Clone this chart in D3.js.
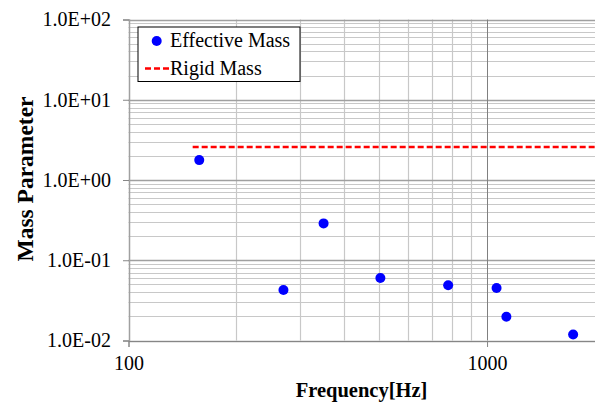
<!DOCTYPE html>
<html>
<head>
<meta charset="utf-8">
<script src="https://cdn.jsdelivr.net/npm/d3@7"></script>
<style>
  body { margin: 0; background: #fff; }
  svg text { font-family: "Liberation Serif", "Times New Roman", serif; }
</style>
</head>
<body>
<svg id="chart" width="595" height="403"></svg>
<script>
// data
var frequencies = [157.5, 270.5, 350, 504, 779, 1063, 1132, 1738];
var effectiveMass = [1.77, 0.0426, 0.288, 0.0601, 0.0488, 0.0451, 0.0198, 0.0119];
var rigidMass = 2.58;
var rigidRange = [151, 2000];
var yTicks = [100, 10, 1, 0.1, 0.01];
var xTicks = [100, 1000];
var seriesNames = ["Effective Mass", "Rigid Mass"];

var width = 595;
var height = 403;
var margin = {top: 19.5, right: 0, bottom: 62.5, left: 128.5};

var svg = d3.select("#chart");

var x = d3.scaleLog()
  .domain([100, 2000])
  .range([margin.left, width - margin.right]);

var y = d3.scaleLog()
  .domain([0.01, 100])
  .range([height - margin.bottom, margin.top]);

// minor grid values (2..9 in each decade)
var xMinor = [];
for (var d = 100; d < 2000; d *= 10) {
  for (var k = 2; k <= 9; k++) {
    if (d * k < 2000) xMinor.push(d * k);
  }
}
var yMinor = [];
for (var e = 0.01; e < 100; e *= 10) {
  for (var m = 2; m <= 9; m++) yMinor.push(e * m);
}

var grid = svg.append("g");

grid.selectAll("line.ymin")
  .data(yMinor)
  .enter().append("line")
  .attr("x1", margin.left).attr("x2", width)
  .attr("y1", function(v) { return Math.round(y(v)) + 0.5; })
  .attr("y2", function(v) { return Math.round(y(v)) + 0.5; })
  .attr("stroke", "#c8c8c8").attr("stroke-width", 1.2);

grid.selectAll("line.xmin")
  .data(xMinor)
  .enter().append("line")
  .attr("y1", margin.top).attr("y2", height - margin.bottom)
  .attr("x1", function(v) { return Math.round(x(v)) + 0.5; })
  .attr("x2", function(v) { return Math.round(x(v)) + 0.5; })
  .attr("stroke", "#c8c8c8").attr("stroke-width", 1.2);

grid.selectAll("line.ymaj")
  .data(yTicks)
  .enter().append("line")
  .attr("x1", margin.left).attr("x2", width)
  .attr("y1", function(v) { return Math.round(y(v)) + 0.5; })
  .attr("y2", function(v) { return Math.round(y(v)) + 0.5; })
  .attr("stroke", "#a0a0a0").attr("stroke-width", 1.5);

grid.selectAll("line.xmaj")
  .data([1000])
  .enter().append("line")
  .attr("y1", margin.top).attr("y2", height - margin.bottom)
  .attr("x1", function(v) { return Math.round(x(v)) + 0.5; })
  .attr("x2", function(v) { return Math.round(x(v)) + 0.5; })
  .attr("stroke", "#808080").attr("stroke-width", 1);

// axes
var yAxis = d3.axisLeft(y)
  .tickValues(yTicks)
  .tickSize(6)
  .tickPadding(12)
  .tickFormat(function(v) {
    var p = Math.round(Math.log10(v));
    return "1.0E" + (p < 0 ? "-" : "+") + String(Math.abs(p)).padStart(2, "0");
  });

var xAxis = d3.axisBottom(x)
  .tickValues(xTicks)
  .tickSize(6)
  .tickPadding(9)
  .tickFormat(d3.format("d"));

var gy = svg.append("g")
  .attr("transform", "translate(" + (margin.left + 0.5) + ",0)")
  .call(yAxis);
gy.select(".domain").attr("stroke", "#a0a0a0").attr("stroke-width", 1.5);
gy.selectAll(".tick line").attr("stroke", "#868686");
gy.selectAll(".tick text")
  .attr("font-size", 20).attr("fill", "#000")
  .attr("font-family", "Liberation Serif");

var gx = svg.append("g")
  .attr("transform", "translate(0," + (height - margin.bottom + 0.5) + ")")
  .call(xAxis);
gx.select(".domain").attr("stroke", "#868686");
gx.selectAll(".tick line").attr("stroke", "#868686");
gx.selectAll(".tick text")
  .attr("font-size", 20).attr("fill", "#000")
  .attr("font-family", "Liberation Serif");

// rigid mass line
svg.append("line")
  .attr("x1", x(rigidRange[0])).attr("x2", x(rigidRange[1]))
  .attr("y1", y(rigidMass)).attr("y2", y(rigidMass))
  .attr("stroke", "#ff0000").attr("stroke-width", 2.5)
  .attr("stroke-dasharray", "6,3");

// effective mass points
svg.selectAll("circle.pt")
  .data(frequencies)
  .enter().append("circle")
  .attr("cx", function(f) { return x(f); })
  .attr("cy", function(f, i) { return y(effectiveMass[i]); })
  .attr("r", 5)
  .attr("fill", "#0000ff");

// titles
svg.append("text")
  .attr("x", 361.5).attr("y", 397)
  .attr("text-anchor", "middle")
  .attr("font-size", 20.5).attr("font-weight", "bold")
  .text("Frequency[Hz]");

svg.append("text")
  .attr("transform", "translate(33,179) rotate(-90)")
  .attr("text-anchor", "middle")
  .attr("font-size", 23.5).attr("font-weight", "bold")
  .text("Mass Parameter");

// legend
var legend = svg.append("g");
legend.append("rect")
  .attr("x", 138).attr("y", 27)
  .attr("width", 162).attr("height", 54.5)
  .attr("fill", "#fff")
  .attr("stroke", "#000").attr("stroke-width", 1);

legend.append("circle")
  .attr("cx", 156.7).attr("cy", 41).attr("r", 5)
  .attr("fill", "#0000ff");
legend.append("text")
  .attr("x", 170).attr("y", 47)
  .attr("font-size", 20)
  .text(seriesNames[0]);

legend.append("line")
  .attr("x1", 145).attr("x2", 170)
  .attr("y1", 68.5).attr("y2", 68.5)
  .attr("stroke", "#ff0000").attr("stroke-width", 2.5)
  .attr("stroke-dasharray", "6,3");
legend.append("text")
  .attr("x", 170).attr("y", 74.5)
  .attr("font-size", 20)
  .text(seriesNames[1]);
</script>
</body>
</html>
